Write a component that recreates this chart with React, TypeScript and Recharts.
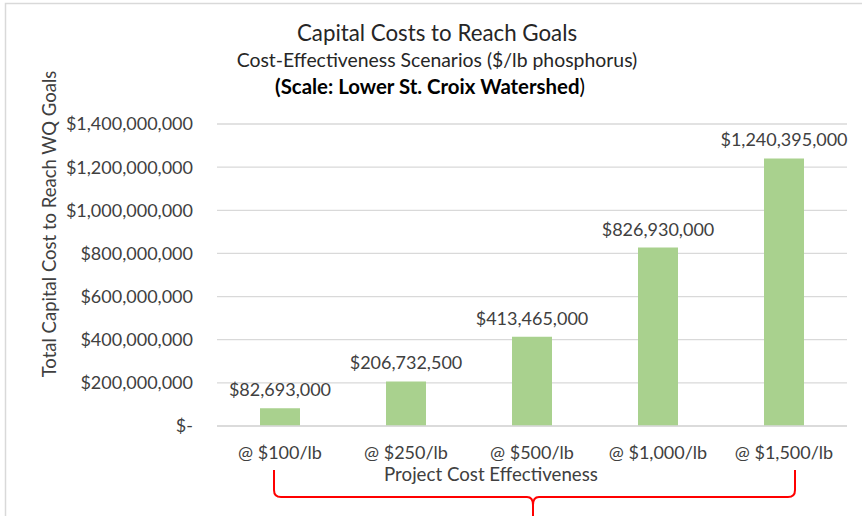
import React from 'react';
import { BarChart, Bar, XAxis, YAxis, CartesianGrid, LabelList } from 'recharts';

const categories = ['@ $100/lb', '@ $250/lb', '@ $500/lb', '@ $1,000/lb', '@ $1,500/lb'];
const costs = [82693000, 206732500, 413465000, 826930000, 1240395000];
const yTicks = [0, 200000000, 400000000, 600000000, 800000000, 1000000000, 1200000000, 1400000000];

const data = categories.map((name, i) => ({ name, cost: costs[i] }));

const FONT = "Lato, 'Open Sans', sans-serif";
const TEXT = '#404040';

const money = (v: number) => (v === 0 ? '$-' : '$' + v.toLocaleString('en-US'));

export default function App() {
  return (
    <div style={{ position: 'absolute', left: 0, top: 0, width: 862, height: 516, background: '#fff', overflow: 'hidden' }}>
      <BarChart width={862} height={516} data={data} margin={{ top: 124, right: 15, bottom: 0, left: 0 }}>
        <CartesianGrid vertical={false} stroke="#d9d9d9" strokeWidth={1.3} />
        <XAxis
          dataKey="name"
          height={90}
          axisLine={{ stroke: '#d9d9d9', strokeWidth: 1.3 }}
          tickLine={false}
          tickSize={0}
          tickMargin={20}
          tick={{ fill: TEXT, fontSize: 18, fontFamily: FONT }}
          label={{
            content: () => (
              <text x={491} y={481} textAnchor="middle" fill={TEXT} fontSize={18.7} fontFamily={FONT}>
                Project Cost Effectiveness
              </text>
            ),
          }}
        />
        <YAxis
          width={217}
          domain={[0, 1400000000]}
          ticks={yTicks}
          axisLine={false}
          tickLine={false}
          tickSize={0}
          tickMargin={24}
          tickFormatter={money}
          tick={{ fill: TEXT, fontSize: 18, fontFamily: FONT }}
          label={{
            content: () => (
              <text x={56} y={224} transform="rotate(-90, 56, 224)" textAnchor="middle" fill={TEXT} fontSize={18.5} fontFamily={FONT}>
                Total Capital Cost to Reach WQ Goals
              </text>
            ),
          }}
        />
        <Bar dataKey="cost" fill="#a9d18e" barSize={40} isAnimationActive={false}>
          <LabelList dataKey="cost" position="top" offset={12} formatter={(v: any) => money(Number(v))} fill={TEXT} fontSize={18} fontFamily={FONT} />
        </Bar>
      </BarChart>
      <svg width={862} height={516} style={{ position: 'absolute', left: 0, top: 0, pointerEvents: 'none' }}>
        <rect x={5.5} y={3.5} width={900} height={600} fill="none" stroke="#d9d9d9" strokeWidth={1.5} />
        <text x={437} y={41} textAnchor="middle" fill="#262626" fontSize={22.3} fontFamily={FONT}>
          Capital Costs to Reach Goals
        </text>
        <text x={437} y={67} textAnchor="middle" fill="#262626" fontSize={19.4} fontFamily={FONT}>
          Cost-Effectiveness Scenarios ($/lb phosphorus)
        </text>
        <text x={430} y={94} textAnchor="middle" fill="#000" fontSize={20.4} fontFamily={FONT}>
          <tspan fontWeight="bold">(Scale: Lower St. Croix Watershed</tspan>
          <tspan>)</tspan>
        </text>
        <path
          d="M274 470 L274 490 Q274 497 281 497 L527 497 Q533 497 533 505 L533 520 M533 505 Q533 497 539 497 L788 497 Q795 497 795 490 L795 470"
          fill="none"
          stroke="#ff0000"
          strokeWidth={2}
        />
      </svg>
    </div>
  );
}
